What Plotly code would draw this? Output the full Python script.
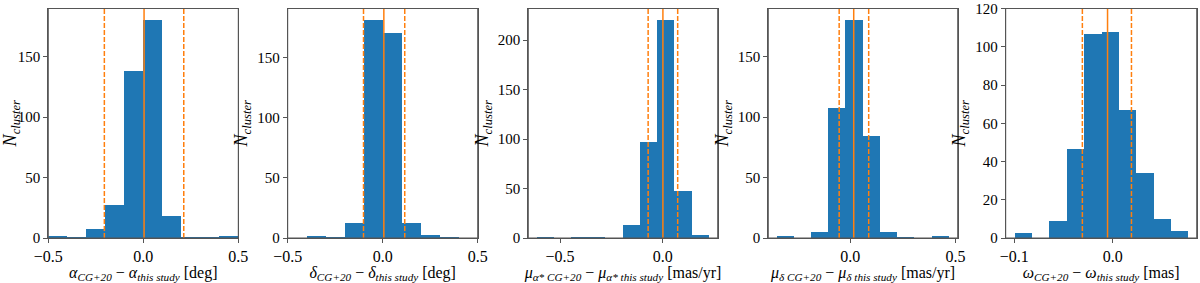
import plotly.graph_objects as go

# ---- data ----
bin_start = [-0.5, -0.4, -0.613, -0.347, -0.1]
bin_width = [0.1, 0.1, 0.0839, 0.0816, 0.01765]
counts_ra = [2, 1, 8, 28, 139, 181, 19, 1, 1, 2]
counts_dec = [2, 1, 13, 182, 171, 13, 3, 1]
counts_pmra = [1, 0, 2, 1, 0, 14, 98, 221, 48, 4]
counts_pmdec = [2, 0, 5, 108, 181, 85, 5, 1, 0, 2]
counts_plx = [3, 0, 9, 47, 107, 108, 67, 34, 10, 4]
all_counts = [counts_ra, counts_dec, counts_pmra, counts_pmdec, counts_plx]

center_vals = [0.004, 0.006, 0.001, 0.017, -0.0053]
lower_vals = [-0.205, -0.101, -0.071, -0.052, -0.0309]
upper_vals = [0.213, 0.116, 0.073, 0.088, 0.019]

x_ranges = [[-0.5, 0.5], [-0.5, 0.5], [-0.655, 0.268], [-0.388, 0.510], [-0.1088, 0.0853]]
y_ranges = [[0, 190], [0, 191], [0, 232], [0, 190], [0, 120]]
x_tickvals = [[-0.5, 0.0, 0.5], [-0.5, 0.0, 0.5], [-0.5, 0.0], [0.0, 0.5], [-0.1, 0.0]]
x_ticktext = [["−0.5", "0.0", "0.5"], ["−0.5", "0.0", "0.5"], ["−0.5", "0.0"], ["0.0", "0.5"], ["−0.1", "0.0"]]
y_tickvals = [[0, 50, 100, 150], [0, 50, 100, 150], [0, 50, 100, 150, 200], [0, 50, 100, 150],
              [0, 20, 40, 60, 80, 100, 120]]
x_titles = [
    "<i>α<sub>CG+20</sub></i> − <i>α<sub>this study</sub></i> [deg]",
    "<i>δ<sub>CG+20</sub></i> − <i>δ<sub>this study</sub></i> [deg]",
    "<i>μ<sub>α* CG+20</sub></i> − <i>μ<sub>α* this study</sub></i> [mas/yr]",
    "<i>μ<sub>δ CG+20</sub></i> − <i>μ<sub>δ this study</sub></i> [mas/yr]",
    "<i>ω<sub>CG+20</sub></i> − <i>ω<sub>this study</sub></i> [mas]",
]
y_title = "<i>N<sub>cluster</sub></i>"

# ---- layout geometry (pixels) ----
W, H = 1200, 283
panel_px = [(48.3, 238.3), (287.7, 477.7), (528.3, 717.7), (768.3, 957.7), (1005.7, 1196.7)]
top_px, bot_px = 8.5, 238.0

BLUE = "#1f77b4"
ORANGE = "#ff7f0e"
FONT = "Liberation Serif"
AXC = "#555555"

fig = go.Figure()
layout = dict(
    width=W, height=H,
    margin=dict(l=0, r=0, t=0, b=0),
    paper_bgcolor="white", plot_bgcolor="white",
    showlegend=False, bargap=0,
    font=dict(family=FONT, size=16, color="black"),
)
shapes = []
for i in range(5):
    n = "" if i == 0 else str(i + 1)
    xa, ya = "x" + n, "y" + n
    cnts = all_counts[i]
    xs = [bin_start[i] + (k + 0.5) * bin_width[i] for k in range(len(cnts))]
    fig.add_trace(go.Bar(x=xs, y=cnts, width=[bin_width[i]] * len(cnts),
                         marker=dict(color=BLUE, line=dict(width=0)),
                         xaxis=xa, yaxis=ya))
    l, r = panel_px[i]
    layout["xaxis" + n] = dict(
        domain=[l / W, r / W], anchor=ya, range=x_ranges[i],
        tickvals=x_tickvals[i], ticktext=x_ticktext[i],
        showline=True, mirror=True, linecolor=AXC, linewidth=1,
        ticks="outside", ticklen=4, tickcolor=AXC, showgrid=False, zeroline=False,
        tickfont=dict(family=FONT, size=16),
        title=dict(text=x_titles[i], font=dict(family=FONT, size=16), standoff=4),
        automargin=False,
    )
    layout["yaxis" + n] = dict(
        domain=[(H - bot_px) / H, (H - top_px) / H], anchor=xa, range=y_ranges[i],
        tickvals=y_tickvals[i],
        showline=True, mirror=True, linecolor=AXC, linewidth=1,
        ticks="outside", ticklen=4, tickcolor=AXC, showgrid=False, zeroline=False,
        tickfont=dict(family=FONT, size=15),
        title=dict(text=y_title, font=dict(family=FONT, size=18), standoff=4),
        automargin=False,
    )
    for val, dash in ((center_vals[i], "solid"), (lower_vals[i], "5px,2px"), (upper_vals[i], "5px,2px")):
        shapes.append(dict(type="line", xref=xa, yref=ya + " domain",
                           x0=val, x1=val, y0=0, y1=1,
                           line=dict(color=ORANGE, width=1.5, dash=dash)))
    # axes frame
    shapes.append(dict(type="rect", xref=xa + " domain", yref=ya + " domain",
                       x0=0, x1=1, y0=0, y1=1, layer="above",
                       fillcolor="rgba(0,0,0,0)", line=dict(color=AXC, width=1)))
layout["shapes"] = shapes
fig.update_layout(**layout)
fig.write_html("out.html", config={"displayModeBar": False},
               post_script="document.body.style.margin='0';document.body.style.overflow='hidden';")
